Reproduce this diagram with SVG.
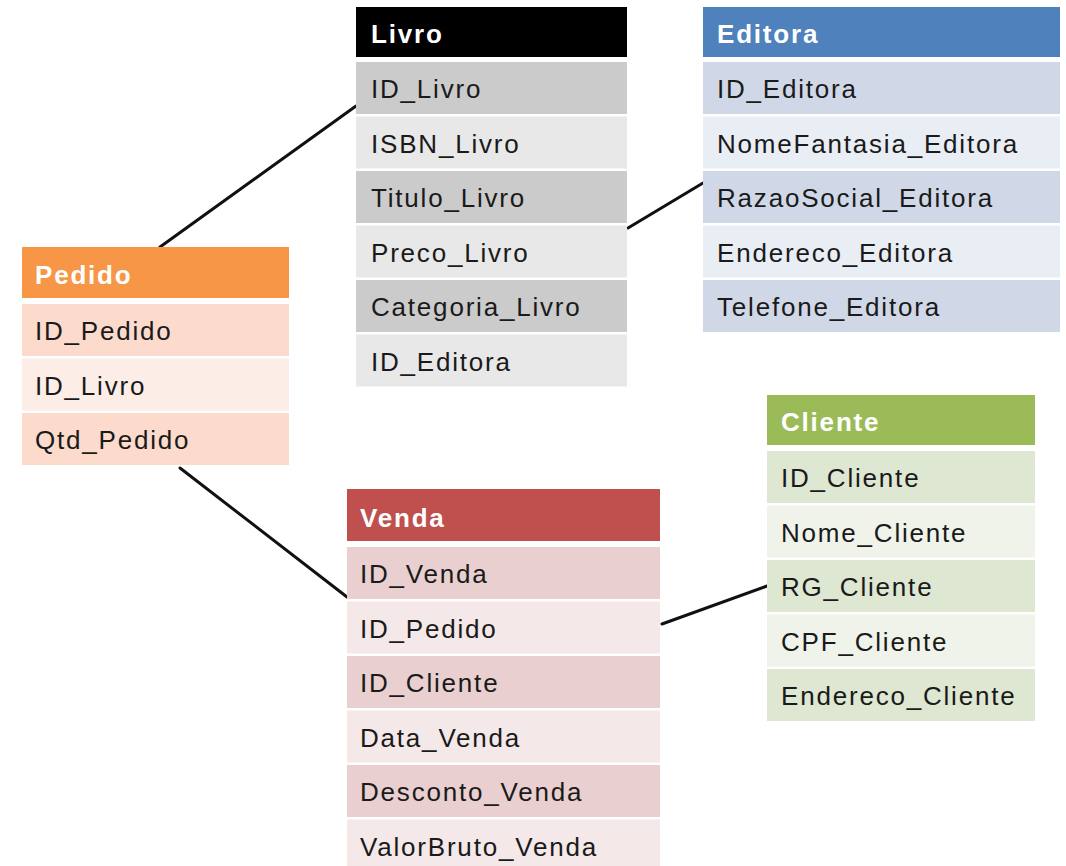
<svg xmlns="http://www.w3.org/2000/svg" width="1066" height="866" viewBox="0 0 1066 866">
<style>
text{font-family:"Liberation Sans",Arial,sans-serif;font-size:26px;letter-spacing:1.8px;fill:#1a1a1a}
text.h{font-weight:bold;fill:#fff}
.conn line{stroke:#111;stroke-width:3;stroke-linecap:round}
.lv .hd{fill:#000}.lv .d{fill:#cbcbcb}.lv .l{fill:#e8e8e8}
.ed .hd{fill:#4f81bd}.ed .d{fill:#d0d8e8}.ed .l{fill:#e9edf4}
.pe .hd{fill:#f79646}.pe .d{fill:#fcdacc}.pe .l{fill:#fdede7}
.ve .hd{fill:#c0504d}.ve .d{fill:#e9cfcf}.ve .l{fill:#f4e8e8}
.cl .hd{fill:#9bbb59}.cl .d{fill:#dee7d1}.cl .l{fill:#eff3ea}
</style>
<rect width="1066" height="866" fill="#fff"/>
<g class="conn" id="connectors">
<line x1="160" y1="247" x2="356" y2="106"/>
<line x1="628" y1="228" x2="703" y2="183"/>
<line x1="180" y1="468" x2="347" y2="597"/>
<line x1="662" y1="624" x2="767" y2="586"/>
</g>
<g id="livro" class="lv" transform="translate(356,7)">
<rect class="hd" x="0" y="0" width="271" height="50"/>
<text class="h" x="15" y="36">Livro</text>
<rect class="d" x="0" y="55" width="271" height="52"/><text x="15" y="91">ID_Livro</text>
<rect class="l" x="0" y="109.5" width="271" height="52"/><text x="15" y="145.5">ISBN_Livro</text>
<rect class="d" x="0" y="164" width="271" height="52"/><text x="15" y="200">Titulo_Livro</text>
<rect class="l" x="0" y="218.5" width="271" height="52"/><text x="15" y="254.5">Preco_Livro</text>
<rect class="d" x="0" y="273" width="271" height="52"/><text x="15" y="309">Categoria_Livro</text>
<rect class="l" x="0" y="327.5" width="271" height="52"/><text x="15" y="363.5">ID_Editora</text>
</g>
<g id="editora" class="ed" transform="translate(703,7)">
<rect class="hd" x="0" y="0" width="357" height="50"/>
<text class="h" x="14" y="36">Editora</text>
<rect class="d" x="0" y="55" width="357" height="52"/><text x="14" y="91">ID_Editora</text>
<rect class="l" x="0" y="109.5" width="357" height="52"/><text x="14" y="145.5">NomeFantasia_Editora</text>
<rect class="d" x="0" y="164" width="357" height="52"/><text x="14" y="200">RazaoSocial_Editora</text>
<rect class="l" x="0" y="218.5" width="357" height="52"/><text x="14" y="254.5">Endereco_Editora</text>
<rect class="d" x="0" y="273" width="357" height="52"/><text x="14" y="309">Telefone_Editora</text>
</g>
<g id="pedido" class="pe" transform="translate(22,247)">
<rect class="hd" x="0" y="0" width="267" height="51"/>
<text class="h" x="13" y="37">Pedido</text>
<rect class="d" x="0" y="57" width="267" height="52"/><text x="13" y="93">ID_Pedido</text>
<rect class="l" x="0" y="111.5" width="267" height="52"/><text x="13" y="147.5">ID_Livro</text>
<rect class="d" x="0" y="166" width="267" height="52"/><text x="13" y="202">Qtd_Pedido</text>
</g>
<g id="venda" class="ve" transform="translate(347,489)">
<rect class="hd" x="0" y="0" width="313" height="52"/>
<text class="h" x="13" y="38">Venda</text>
<rect class="d" x="0" y="58" width="313" height="52"/><text x="13" y="94">ID_Venda</text>
<rect class="l" x="0" y="112.5" width="313" height="52"/><text x="13" y="148.5">ID_Pedido</text>
<rect class="d" x="0" y="167" width="313" height="52"/><text x="13" y="203">ID_Cliente</text>
<rect class="l" x="0" y="221.5" width="313" height="52"/><text x="13" y="257.5">Data_Venda</text>
<rect class="d" x="0" y="276" width="313" height="52"/><text x="13" y="312">Desconto_Venda</text>
<rect class="l" x="0" y="330.5" width="313" height="52"/><text x="13" y="366.5">ValorBruto_Venda</text>
</g>
<g id="cliente" class="cl" transform="translate(767,395)">
<rect class="hd" x="0" y="0" width="268" height="50"/>
<text class="h" x="14" y="36">Cliente</text>
<rect class="d" x="0" y="56" width="268" height="52"/><text x="14" y="92">ID_Cliente</text>
<rect class="l" x="0" y="110.5" width="268" height="52"/><text x="14" y="146.5">Nome_Cliente</text>
<rect class="d" x="0" y="165" width="268" height="52"/><text x="14" y="201">RG_Cliente</text>
<rect class="l" x="0" y="219.5" width="268" height="52"/><text x="14" y="255.5">CPF_Cliente</text>
<rect class="d" x="0" y="274" width="268" height="52"/><text x="14" y="310">Endereco_Cliente</text>
</g>
</svg>
